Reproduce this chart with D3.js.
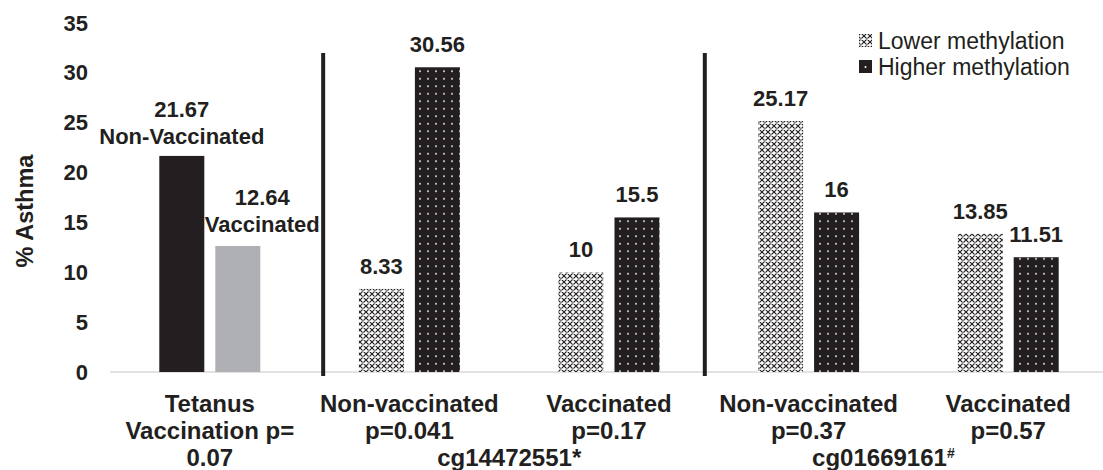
<!DOCTYPE html>
<html>
<head>
<meta charset="utf-8">
<script src="https://cdn.jsdelivr.net/npm/d3@7"></script>
<style>
  html, body { margin: 0; padding: 0; background: #fff; }
  svg { display: block; }
  text { font-family: "Liberation Sans", Arial, Helvetica, sans-serif; fill: #231f20; }
</style>
</head>
<body>
<svg id="chart" width="1103" height="470"></svg>
<script>
// ---------- data ----------
const categories = ["tetanus", "cg144_non", "cg144_vac", "cg016_non", "cg016_vac"];
const categoryLines = [
  ["Tetanus", "Vaccination p=", "0.07"],
  ["Non-vaccinated", "p=0.041"],
  ["Vaccinated", "p=0.17"],
  ["Non-vaccinated", "p=0.37"],
  ["Vaccinated", "p=0.57"]
];
const tetanusSeries = ["Non-Vaccinated", "Vaccinated"];
const tetanusValues = [21.67, 12.64];
const seriesNames = ["Lower methylation", "Higher methylation"];
const lowerMethylation = [null, 8.33, 10, 25.17, 13.85];
const higherMethylation = [null, 30.56, 15.5, 16, 11.51];
const cpgSites = ["cg14472551", "cg01669161"];
const cpgMarks = ["*", "#"];
const cpgGroups = [[1, 2], [3, 4]];
const yTicks = [0, 5, 10, 15, 20, 25, 30, 35];
const yTitle = "% Asthma";

// ---------- layout ----------
const svg = d3.select("#chart");
const dark = "#231f20";
const grayBar = "#afb0b3";

const x = d3.scaleBand().domain(categories).range([110, 1108]).padding(0);
const inner = d3.scaleBand().domain([0, 1]).range([-50.5, 50.5]).paddingInner(0.196).paddingOuter(0);
const y = d3.scaleLinear().domain([0, 35]).range([372, 23]);
const center = c => x(c) + x.bandwidth() / 2;

// patterns
const defs = svg.append("defs");
const pLow = defs.append("pattern").attr("id", "lowPat")
  .attr("patternUnits", "userSpaceOnUse").attr("width", 6).attr("height", 6);
pLow.append("rect").attr("width", 6).attr("height", 6).attr("fill", "#fff");
pLow.append("path").attr("d", "M0,0L6,6M6,0L0,6M-1,5L1,7M5,-1L7,1M-1,1L1,-1M5,7L7,5")
  .attr("stroke", dark).attr("stroke-width", 1.2).attr("fill", "none");
pLow.append("circle").attr("cx", 3).attr("cy", 3).attr("r", 0.8).attr("fill", "#fff");

const pHigh = defs.append("pattern").attr("id", "highPat")
  .attr("patternUnits", "userSpaceOnUse").attr("width", 8).attr("height", 7.5);
pHigh.append("rect").attr("width", 8).attr("height", 7.5).attr("fill", dark);
pHigh.append("circle").attr("cx", 4).attr("cy", 3.75).attr("r", 0.9).attr("fill", "#fff");

// baseline
svg.append("line")
  .attr("x1", 110).attr("x2", 1103)
  .attr("y1", y(0)).attr("y2", y(0))
  .attr("stroke", "#d9d9d9").attr("stroke-width", 1.5);

// y axis (labels only)
const yAxis = d3.axisLeft(y).tickValues(yTicks).tickSize(0).tickPadding(0);
const gy = svg.append("g").attr("transform", "translate(88,0)").call(yAxis);
gy.select(".domain").remove();
gy.selectAll("text")
  .style("font-family", "'Liberation Sans', Arial, sans-serif")
  .style("font-size", "22px").style("font-weight", "bold").attr("fill", dark);

// y title
svg.append("text")
  .attr("transform", `translate(33,${(y(0) + y(35)) / 2 + 13.5}) rotate(-90)`)
  .attr("text-anchor", "middle")
  .style("font-size", "23.5px").style("font-weight", "bold")
  .text(yTitle);

// tetanus bars
const tet = tetanusValues.map((v, i) => ({ v, i, name: tetanusSeries[i] }));
svg.selectAll(".tetBar").data(tet).enter().append("rect")
  .attr("class", "tetBar")
  .attr("x", d => center(categories[0]) + inner(d.i))
  .attr("width", inner.bandwidth())
  .attr("y", d => y(d.v))
  .attr("height", d => y(0) - y(d.v))
  .attr("fill", d => d.i === 0 ? dark : grayBar);

const tetLbl = svg.selectAll(".tetLbl").data(tet).enter().append("text")
  .attr("class", "tetLbl")
  .attr("text-anchor", "middle")
  .style("font-size", "22px").style("font-weight", "bold")
  .attr("transform", d => {
    const cx = center(categories[0]) + inner(d.i) + inner.bandwidth() / 2 + (d.i === 1 ? 24.5 : 0);
    return `translate(${cx},${y(d.v) - (d.i === 0 ? 12 : 14)})`;
  });
tetLbl.append("tspan").attr("x", 0).attr("y", -27).text(d => d.v);
tetLbl.append("tspan").attr("x", 0).attr("y", 0).text(d => d.name);

// methylation bars
const methData = [];
categories.forEach((c, ci) => {
  if (lowerMethylation[ci] != null) methData.push({ c, s: 0, v: lowerMethylation[ci] });
  if (higherMethylation[ci] != null) methData.push({ c, s: 1, v: higherMethylation[ci] });
});
svg.selectAll(".mBar").data(methData).enter().append("rect")
  .attr("class", "mBar")
  .attr("x", d => center(d.c) + inner(d.s))
  .attr("width", inner.bandwidth())
  .attr("y", d => y(d.v))
  .attr("height", d => y(0) - y(d.v))
  .attr("fill", d => d.s === 0 ? "url(#lowPat)" : "url(#highPat)");

svg.selectAll(".mLbl").data(methData).enter().append("text")
  .attr("class", "mLbl")
  .attr("text-anchor", "middle")
  .style("font-size", "22px").style("font-weight", "bold")
  .attr("x", d => center(d.c) + inner(d.s) + inner.bandwidth() / 2)
  .attr("y", d => y(d.v) - 15)
  .text(d => d.v);

// dividers
const bw = x.bandwidth();
const dividerX = [x(categories[1]) + 0.068 * bw, x(categories[3]) - 0.02 * bw];
svg.selectAll(".divider").data(dividerX).enter().append("line")
  .attr("x1", d => d).attr("x2", d => d)
  .attr("y1", y(32)).attr("y2", y(0) + 4)
  .attr("stroke", dark).attr("stroke-width", 4);

// category labels
const lineY = [412, 439, 466];
categoryLines.forEach((lines, ci) => {
  lines.forEach((t, li) => {
    svg.append("text")
      .attr("x", center(categories[ci]))
      .attr("y", lineY[li])
      .attr("text-anchor", "middle")
      .style("font-size", "24px").style("font-weight", "bold")
      .text(t);
  });
});
cpgSites.forEach((s, i) => {
  const g = cpgGroups[i];
  const cx = (center(categories[g[0]]) + center(categories[g[1]])) / 2 + (i === 1 ? -25 : 0);
  const t = svg.append("text")
    .attr("x", cx).attr("y", lineY[2])
    .attr("text-anchor", "middle")
    .style("font-size", "24px").style("font-weight", "bold");
  t.append("tspan").text(s);
  if (cpgMarks[i] === "#") {
    t.append("tspan").attr("dy", -8).style("font-size", "14px").text(cpgMarks[i]);
  } else {
    t.append("tspan").text(cpgMarks[i]);
  }
});

// legend
const legend = svg.append("g");
seriesNames.forEach((n, i) => {
  const yb = 49 + i * 26;
  legend.append("rect")
    .attr("x", 859).attr("y", yb - 15).attr("width", 13).attr("height", 13)
    .attr("fill", i === 0 ? "url(#lowPat)" : dark);
  if (i === 1) {
    legend.append("circle").attr("cx", 865.5).attr("cy", yb - 8).attr("r", 1).attr("fill", "#fff");
  }
  legend.append("text")
    .attr("x", 878).attr("y", yb)
    .style("font-size", "23px")
    .text(n);
});
</script>
</body>
</html>
